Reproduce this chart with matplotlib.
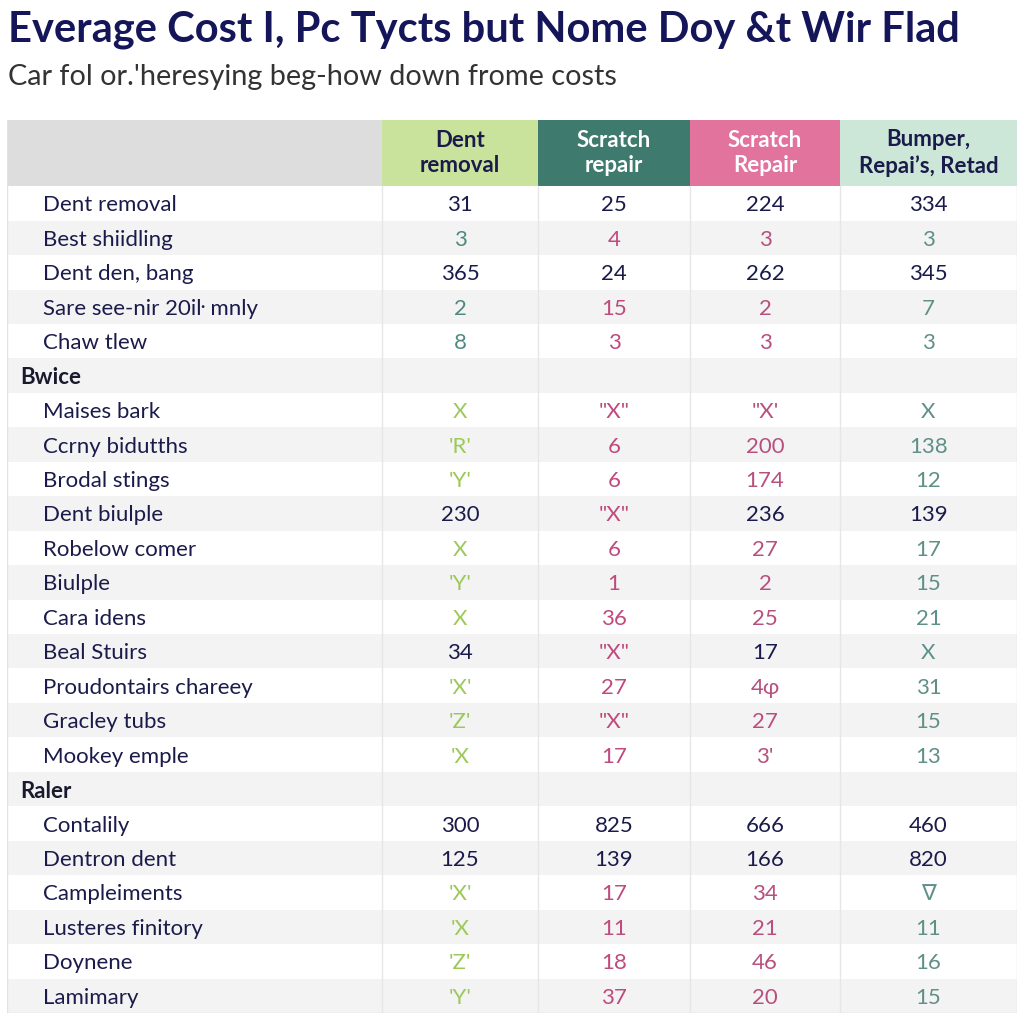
import matplotlib.pyplot as plt
from matplotlib.patches import Rectangle

plt.rcParams['font.family'] = ['Lato', 'DejaVu Sans']

# --- Texts ---
TITLE = "Everage Cost I, Pc Tycts but Nome Doy &t Wir Flad"
SUBTITLE = "Car fol or.'heresying beg-how down frome costs"
COLUMNS = ["Dent\nremoval", "Scratch\nrepair", "Scratch\nRepair", "Bumper,\nRepai’s, Retad"]

# --- Table data (section name, row labels, cell values) ---
SECTION_NAMES = ["", "Bwice", "Raler"]

TOP_ROWS = ["Dent removal", "Best shiidling", "Dent den, bang",
            "Sare see-nir 20iŀ mnly", "Chaw tlew"]
TOP_VALUES = [["31", "25", "224", "334"],
              ["3", "4", "3", "3"],
              ["365", "24", "262", "345"],
              ["2", "15", "2", "7"],
              ["8", "3", "3", "3"]]

BWICE_ROWS = ["Maises bark", "Ccrny bidutths", "Brodal stings", "Dent biulple",
              "Robelow comer", "Biulple", "Cara idens", "Beal Stuirs",
              "Proudontairs chareey", "Gracley tubs", "Mookey emple"]
BWICE_VALUES = [["X", "\"X\"", "\"X'", "X"],
                ["'R'", "6", "200", "138"],
                ["'Y'", "6", "174", "12"],
                ["230", "\"X\"", "236", "139"],
                ["X", "6", "27", "17"],
                ["'Y'", "1", "2", "15"],
                ["X", "36", "25", "21"],
                ["34", "\"X\"", "17", "X"],
                ["'X'", "27", "4ɸ", "31"],
                ["'Z'", "\"X\"", "27", "15"],
                ["'X", "17", "3'", "13"]]

RALER_ROWS = ["Contalily", "Dentron dent", "Campleiments",
              "Lusteres finitory", "Doynene", "Lamimary"]
RALER_VALUES = [["300", "825", "666", "460"],
                ["125", "139", "166", "820"],
                ["'X'", "17", "34", "∇"],
                ["'X", "11", "21", "11"],
                ["'Z'", "18", "46", "16"],
                ["'Y'", "37", "20", "15"]]

EMPHASIS_ROWS = ["Dent removal", "Dent den, bang", "Dent biulple",
                 "Beal Stuirs", "Contalily", "Dentron dent"]

# --- Styling ---
NAVY = "#1b1b4b"
HEADER_FILL = ["#c9e39d", "#3e7a6d", "#e2739c", "#cce6d7"]
HEADER_TEXT = [NAVY, "white", "white", NAVY]
NUM_COLORS = ["#4f8a82", "#c0497e", "#b8507f", "#5f9087"]
MARK_COLORS = ["#9cc95a", "#c0497e", "#b8507f", "#5f9087"]
COL_EDGES = [0, 375, 531, 683, 833, 1010]
HEAD_H = 1.92

# flatten into drawn rows
rows = []
for name, labels, values in [(SECTION_NAMES[0], TOP_ROWS, TOP_VALUES),
                             (SECTION_NAMES[1], BWICE_ROWS, BWICE_VALUES),
                             (SECTION_NAMES[2], RALER_ROWS, RALER_VALUES)]:
    if name:
        rows.append(("section", name, None))
    for lab, vals in zip(labels, values):
        rows.append(("row", lab, vals))
n = len(rows)

fig = plt.figure(figsize=(10.24, 10.24), dpi=100)
fig.text(8 / 1024, 1 - 30 / 1024, TITLE, fontsize=30, fontweight="bold",
         color="#15155a", va="center", ha="left")
fig.text(8 / 1024, 1 - 77 / 1024, SUBTITLE, fontsize=20.8, color="#333333",
         va="center", ha="left")

ax = fig.add_axes([7 / 1024, 11 / 1024, 1010 / 1024, 893 / 1024])
ax.set_xlim(0, COL_EDGES[-1])
ax.set_ylim(n, -HEAD_H)
ax.axis("off")

# header
ax.add_patch(Rectangle((0, -HEAD_H), COL_EDGES[1], HEAD_H, color="#dddddd", lw=0))
for j, col in enumerate(COLUMNS):
    x0, x1 = COL_EDGES[j + 1], COL_EDGES[j + 2]
    ax.add_patch(Rectangle((x0, -HEAD_H), x1 - x0, HEAD_H, color=HEADER_FILL[j], lw=0))
    ax.text((x0 + x1) / 2, -HEAD_H / 2, col, ha="center", va="center",
            fontsize=16, fontweight="bold", color=HEADER_TEXT[j], linespacing=1.25)

# body
for i, (kind, label, vals) in enumerate(rows):
    fill = "white" if i % 2 == 0 else "#f3f3f3"
    ax.add_patch(Rectangle((0, i), COL_EDGES[-1], 1, color=fill, lw=0))
    yc = i + 0.5
    if kind == "section":
        ax.text(13, yc, label, ha="left", va="center_baseline", fontsize=16,
                fontweight="bold", color="#1a1a2e")
        continue
    ax.text(36, yc, label, ha="left", va="center_baseline", fontsize=16, color=NAVY)
    for j, v in enumerate(vals):
        x0, x1 = COL_EDGES[j + 1], COL_EDGES[j + 2]
        is_num = v.isdigit()
        if is_num and label in EMPHASIS_ROWS:
            c = NAVY
        elif is_num:
            c = NUM_COLORS[j]
        else:
            c = MARK_COLORS[j]
        ax.text((x0 + x1) / 2, yc, v, ha="center", va="center_baseline",
                fontsize=16, color=c)

# grid lines
for x in COL_EDGES[1:-1]:
    ax.plot([x, x], [0, n], color="#e6e6e6", lw=1)
ax.plot([0, 0], [-HEAD_H, n], color="#e2e2e2", lw=1)
ax.plot([COL_EDGES[-1]] * 2, [-HEAD_H, n], color="#e2e2e2", lw=1)
ax.plot([0, COL_EDGES[-1]], [n, n], color="#e2e2e2", lw=1)

fig.savefig("out.png", dpi=100)
